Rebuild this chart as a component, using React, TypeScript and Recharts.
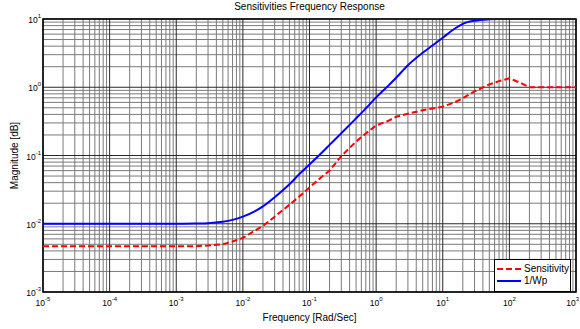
import { LineChart, Line, XAxis, YAxis, CartesianGrid, ReferenceArea } from "recharts";

// frequencies [rad/s] and magnitudes
const freq = [
  1e-5, 1e-4, 1e-3, 2e-3, 3e-3, 5e-3, 7e-3, 1e-2, 1.5e-2, 2e-2, 3e-2, 5e-2, 7e-2,
  0.1, 0.15, 0.2, 0.3, 0.5, 0.7, 1, 1.5, 2, 3, 5, 7, 10, 15, 20, 30, 50, 70, 100,
  150, 200, 300, 500, 1000,
];
const sensitivity = [
  0.0047, 0.0047, 0.0047, 0.0047, 0.0048, 0.005, 0.0055, 0.0062, 0.0079, 0.0093, 0.0127, 0.019, 0.025,
  0.034, 0.048, 0.06, 0.098, 0.16, 0.21, 0.275, 0.32, 0.37, 0.41, 0.46, 0.49, 0.52, 0.6, 0.69, 0.87, 1.1, 1.23, 1.35,
  1.15, 1.0, 1.0, 1.0, 1.0,
];
const invWp = [
  0.01, 0.01, 0.01, 0.0101, 0.0102, 0.0107, 0.0114, 0.0127, 0.0152, 0.018, 0.0245, 0.038, 0.053,
  0.074, 0.108, 0.143, 0.212, 0.35, 0.49, 0.71, 1.04, 1.38, 2.1, 3.2, 4.08, 5.3, 7.2, 8.5, 9.45, 9.9, 10, 10,
  10, 10, 10, 10, 10,
];

const xTicks = [1e-5, 1e-4, 1e-3, 1e-2, 1e-1, 1, 10, 100, 1000];
const yTicks = [1e-3, 1e-2, 1e-1, 1, 10];

const series = [
  { key: "sens", name: "Sensitivity", color: "#ff0000", dash: "6 3" },
  { key: "wp", name: "1/Wp", color: "#0000ff", dash: undefined },
];

const data = freq.map((f, i) => ({ f, sens: sensitivity[i], wp: invWp[i] }));

// 2..9 within each decade for the minor grid
const minor = (ticks: number[]) => {
  const out: number[] = [];
  ticks.slice(0, -1).forEach((d) => {
    for (let k = 2; k <= 9; k++) out.push(d * k);
  });
  return out;
};

const font = '"Liberation Sans", Arial, sans-serif';

const XTick = (props: any) => {
  const { x, y, payload, index } = props;
  const e = Math.round(Math.log10(payload.value));
  const last = index === xTicks.length - 1;
  return (
    <text x={last ? 579 : x} y={y + 12} textAnchor={last ? "end" : "middle"} fontSize={8.5} fill="#000" fontFamily={font}>
      10<tspan dy={-5} fontSize={6}>{e}</tspan>
    </text>
  );
};

const YTick = (props: any) => {
  const { x, y, payload } = props;
  const e = Math.round(Math.log10(payload.value));
  return (
    <text x={x} y={y + 4} textAnchor="end" fontSize={8.5} fill="#000" fontFamily={font}>
      10<tspan dy={-5} fontSize={6}>{e}</tspan>
    </text>
  );
};

const YLabel = (props: any) => {
  const vb = props.viewBox || { x: 0, y: 19, width: 43, height: 273 };
  const cx = vb.x + 18;
  const cy = vb.y + vb.height / 2;
  return (
    <text x={cx} y={cy} transform={`rotate(-90, ${cx}, ${cy})`} textAnchor="middle" fontSize={10} fill="#000" fontFamily={font}>
      Magnitude [dB]
    </text>
  );
};

export default function App() {
  return (
    <div style={{ position: "absolute", left: 0, top: 0, width: 580, height: 329, background: "#fff", fontFamily: font }}>
      <div style={{ position: "absolute", left: 43, width: 533, top: 1, textAlign: "center", fontSize: 10, lineHeight: "12px", color: "#000" }}>
        Sensitivities Frequency Response
      </div>
      <LineChart width={580} height={329} data={data} margin={{ top: 19, right: 4, bottom: 0, left: 0 }}>
        <CartesianGrid verticalValues={minor(xTicks)} horizontalValues={minor(yTicks)} stroke="#7a7a7a" strokeWidth={1} />
        <CartesianGrid verticalValues={xTicks} horizontalValues={yTicks} stroke="#2a2a2a" strokeWidth={1} />
        <XAxis
          dataKey="f"
          type="number"
          scale="log"
          domain={[1e-5, 1e3]}
          ticks={xTicks}
          allowDataOverflow
          height={37}
          tickSize={0}
          tickLine={false}
          axisLine={false}
          tick={<XTick />}
          interval={0}
          label={{ value: "Frequency [Rad/Sec]", position: "insideBottom", offset: 8, fontSize: 10, fill: "#000", fontFamily: font }}
        />
        <YAxis
          type="number"
          scale="log"
          domain={[1e-3, 10]}
          ticks={yTicks}
          allowDataOverflow
          width={43}
          tickSize={0}
          tickLine={false}
          axisLine={false}
          tick={<YTick />}
          interval={0}
          label={<YLabel />}
        />
        <ReferenceArea x1={1e-5} x2={1e3} y1={1e-3} y2={10} fill="none" stroke="#000" strokeWidth={1.5} />
        <Line dataKey="sens" type="linear" stroke="#ff0000" strokeWidth={2} strokeDasharray="6 3" dot={false} isAnimationActive={false} />
        <Line dataKey="wp" type="monotone" stroke="#0000ff" strokeWidth={2} dot={false} isAnimationActive={false} />
      </LineChart>
      <div
        style={{
          position: "absolute",
          left: 494,
          top: 259,
          width: 75,
          height: 28,
          border: "1px solid #000",
          background: "#fff",
          paddingTop: 3,
          boxSizing: "content-box",
        }}
      >
        {series.map((s) => (
          <div key={s.key} style={{ display: "flex", alignItems: "center", height: 12 }}>
            <svg width={24} height={4} style={{ marginLeft: 2, marginRight: 3 }}>
              <line x1={0} y1={2} x2={24} y2={2} stroke={s.color} strokeWidth={2} strokeDasharray={s.dash} />
            </svg>
            <span style={{ fontSize: 10, lineHeight: "12px", color: "#000" }}>{s.name}</span>
          </div>
        ))}
      </div>
    </div>
  );
}
